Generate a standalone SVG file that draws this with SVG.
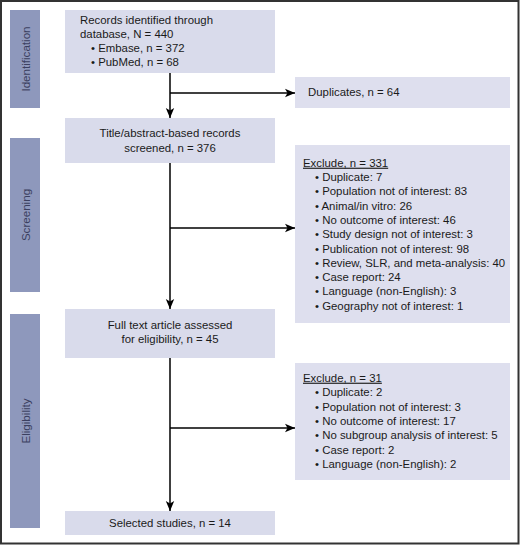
<svg xmlns="http://www.w3.org/2000/svg" width="520" height="545" viewBox="0 0 520 545">
<defs>
<marker id="ah" viewBox="0 0 10 10" refX="10" refY="5" markerWidth="10" markerHeight="10" markerUnits="userSpaceOnUse" orient="auto">
<path d="M0,0.8 L10,5 L0,9.2 L2.5,5 Z" fill="#000"/>
</marker>
<style>
.bar{fill:#8e98bc}
.box{fill:#d9dbeb}
.ex{fill:#dedfee}
text{font-family:"Liberation Sans",Arial,sans-serif;font-size:11.4px;fill:#1a1a1a}
.side{font-size:11.6px;fill:#3b4060}
.c{text-anchor:middle}
.ln{stroke:#000;stroke-width:1.5;fill:none}
</style>
</defs>
<rect x="1" y="1" width="517.5" height="542.5" fill="#fff" stroke="#333" stroke-width="2"/>
<g id="side-identification"><rect class="bar" x="10" y="10" width="30" height="98"/><text class="side c" transform="translate(29.5,59) rotate(-90)">Identification</text></g>
<g id="side-screening"><rect class="bar" x="10" y="138" width="30" height="154"/><text class="side c" transform="translate(29.5,215) rotate(-90)">Screening</text></g>
<g id="side-eligibility"><rect class="bar" x="10" y="314" width="30" height="214"/><text class="side c" transform="translate(29.5,421) rotate(-90)">Eligibility</text></g>
<g id="connectors">
<line class="ln" x1="170" y1="73" x2="170" y2="118" marker-end="url(#ah)"/>
<line class="ln" x1="170" y1="93" x2="295" y2="93" marker-end="url(#ah)"/>
<line class="ln" x1="170" y1="163" x2="170" y2="309" marker-end="url(#ah)"/>
<line class="ln" x1="170" y1="228" x2="295" y2="228" marker-end="url(#ah)"/>
<line class="ln" x1="170" y1="358" x2="170" y2="511" marker-end="url(#ah)"/>
<line class="ln" x1="170" y1="428" x2="295" y2="428" marker-end="url(#ah)"/>
</g>
<g id="records"><rect class="box" x="65" y="10" width="210" height="63"/>
<text x="80" y="24">Records identified through</text>
<text x="80" y="38">database, N = 440</text>
<text x="91" y="52">• Embase, n = 372</text>
<text x="91" y="66">• PubMed, n = 68</text></g>
<g id="duplicates"><rect class="ex" x="295" y="77" width="215" height="31"/>
<text x="308" y="96">Duplicates, n = 64</text></g>
<g id="screened"><rect class="box" x="65" y="118" width="210" height="45"/>
<text class="c" x="170" y="137">Title/abstract-based records</text>
<text class="c" x="170" y="151.5">screened, n = 376</text></g>
<g id="exclude1"><rect class="ex" x="295" y="145" width="215" height="178"/>
<text x="303" y="166.7" text-decoration="underline">Exclude, n = 331</text>
<text x="315" y="181">• Duplicate: 7</text>
<text x="315" y="195.3">• Population not of interest: 83</text>
<text x="315" y="209.6">• Animal/in vitro: 26</text>
<text x="315" y="223.9">• No outcome of interest: 46</text>
<text x="315" y="238.2">• Study design not of interest: 3</text>
<text x="315" y="252.5">• Publication not of interest: 98</text>
<text x="315" y="266.8">• Review, SLR, and meta-analysis: 40</text>
<text x="315" y="281.1">• Case report: 24</text>
<text x="315" y="295.4">• Language (non-English): 3</text>
<text x="315" y="309.7">• Geography not of interest: 1</text></g>
<g id="fulltext"><rect class="box" x="65" y="309" width="210" height="49"/>
<text class="c" x="170" y="329.3">Full text article assessed</text>
<text class="c" x="170" y="343.3">for eligibility, n = 45</text></g>
<g id="exclude2"><rect class="ex" x="295" y="363" width="215" height="117"/>
<text x="303" y="381.7" text-decoration="underline">Exclude, n = 31</text>
<text x="315" y="396.1">• Duplicate: 2</text>
<text x="315" y="410.5">• Population not of interest: 3</text>
<text x="315" y="424.9">• No outcome of interest: 17</text>
<text x="315" y="439.3">• No subgroup analysis of interest: 5</text>
<text x="315" y="453.7">• Case report: 2</text>
<text x="315" y="468.1">• Language (non-English): 2</text></g>
<g id="selected"><rect class="box" x="65" y="511" width="210" height="24"/>
<text class="c" x="170" y="526.7">Selected studies, n = 14</text></g>
</svg>
